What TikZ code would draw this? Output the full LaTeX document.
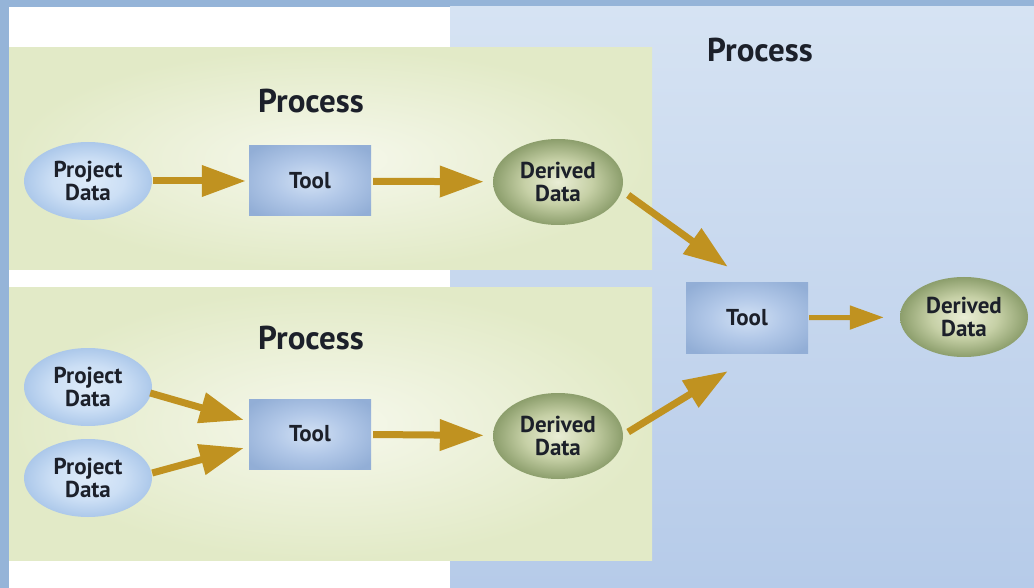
\documentclass[tikz,border=0pt]{standalone}
\usepackage{fontspec}
\setmainfont{PT Sans}
\usetikzlibrary{shapes.geometric,arrows.meta,calc}

\definecolor{framec}{RGB}{149,180,216}
\definecolor{panelTop}{RGB}{214,227,243}
\definecolor{panelBot}{RGB}{182,203,233}
\definecolor{greenIn}{RGB}{246,248,236}
\definecolor{greenOut}{RGB}{226,234,199}
\definecolor{pdIn}{RGB}{222,235,249}
\definecolor{pdMid}{RGB}{204,223,245}
\definecolor{pdOut}{RGB}{172,200,234}
\definecolor{toolIn}{RGB}{210,225,244}
\definecolor{toolMid}{RGB}{178,200,232}
\definecolor{toolOut}{RGB}{146,174,214}
\definecolor{ddIn}{RGB}{234,238,214}
\definecolor{ddMid}{RGB}{198,208,166}
\definecolor{ddOut}{RGB}{140,158,108}
\definecolor{arrowc}{RGB}{192,146,32}
\definecolor{textc}{RGB}{28,32,42}

% radial fills: a node's half-size maps to 25bp in the shading
\pgfdeclareradialshading{pdshade}{\pgfpoint{0bp}{0bp}}{color(0bp)=(pdIn); color(14bp)=(pdMid); color(25bp)=(pdOut); color(50bp)=(pdOut)}
\pgfdeclareradialshading{toolshade}{\pgfpoint{0bp}{0bp}}{color(0bp)=(toolIn); color(15bp)=(toolMid); color(32bp)=(toolOut); color(50bp)=(toolOut)}
\pgfdeclareradialshading{ddshade}{\pgfpoint{0bp}{0bp}}{color(0bp)=(ddIn); color(13bp)=(ddMid); color(25bp)=(ddOut); color(50bp)=(ddOut)}

\tikzset{
  label/.style={font=\bfseries\fontsize{23}{23}\selectfont, text=textc, align=center},
  pdata/.style={label, ellipse, inner sep=0pt, minimum width=128pt, minimum height=78pt,
    shading=pdshade},
  toolbox/.style={label, rectangle, inner sep=0pt, minimum width=122pt, minimum height=70pt,
    shading=toolshade},
  ddata/.style={label, ellipse, inner sep=0pt, minimum width=130pt, minimum height=86pt,
    shading=ddshade},
  title/.style={font=\bfseries\fontsize{33}{36}\selectfont, text=textc},
  flow/.style={draw=arrowc, line width=7pt, -{Triangle[length=44pt 0, width=30pt 0]}},
  smallflow/.style={draw=arrowc, line width=5pt, -{Triangle[length=34pt 0, width=23pt 0]}},
  greenpanel/.style={inner color=greenIn, outer color=greenOut},
}

\begin{document}
\begin{tikzpicture}[x=1pt, y=-1pt]
  \useasboundingbox (0,0) rectangle (1034,588);

  % backgrounds
  \fill[framec] (0,0) rectangle (1034,588);
  \fill[white] (9,7) rectangle (450,588);
  \shade[top color=panelTop, bottom color=panelBot] (450,7) rectangle (1034,588);
  \shade[greenpanel] (9,48) rectangle (652,270);
  \shade[greenpanel] (9,288) rectangle (652,560);

  % titles
  \node[title] (t1) at (311,101) {Process};
  \node[title] (t2) at (311,338) {Process};
  \node[title] (t3) at (760,50) {Process};

  % upper process
  \node[pdata] (pd1) at (88,181) {Project\\Data};
  \node[toolbox] (tool1) at (310,181) {Tool};
  \node[ddata] (dd1) at (558,182) {Derived\\Data};

  % lower process
  \node[pdata] (pd2) at (88,387) {Project\\Data};
  \node[pdata] (pd3) at (88,478) {Project\\Data};
  \node[toolbox] (tool2) at (310,434) {Tool};
  \node[ddata] (dd2) at (558,436) {Derived\\Data};

  % combining process
  \node[toolbox] (tool3) at (747,318) {Tool};
  \node[ddata, minimum width=128pt, minimum height=80pt] (dd3) at (964,317) {Derived\\Data};

  % connectors
  \draw[flow, shorten <=1pt, shorten >=3pt] (pd1) -- (tool1);
  \draw[flow, shorten <=2pt, shorten >=9pt] (tool1) -- (dd1);
  \draw[flow] ([shift={(-2,6)}]pd2.east) -- ([shift={(-5,-14)}]tool2.west);
  \draw[flow] ([shift={(0,-5)}]pd3.east) -- ([shift={(-5,14)}]tool2.west);
  \draw[flow, shorten <=2pt, shorten >=9pt] (tool2) -- (dd2);
  \draw[flow] ([shift={(5,13)}]dd1.east) -- ([shift={(42,-16)}]tool3.north west);
  \draw[flow] ([shift={(5,-4)}]dd2.east) -- ([shift={(42,18)}]tool3.south west);
  \draw[smallflow, shorten <=1pt, shorten >=16pt] (tool3) -- (dd3);
\end{tikzpicture}
\end{document}
